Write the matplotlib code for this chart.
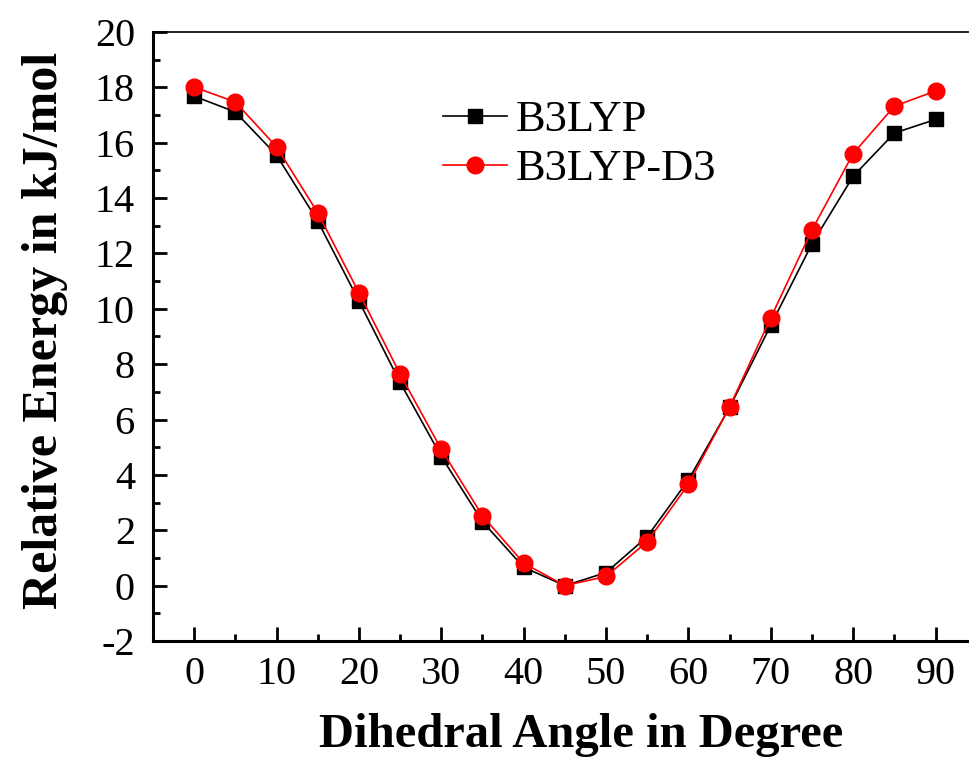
import numpy as np
import matplotlib
matplotlib.use('Agg')
import matplotlib.pyplot as plt
from matplotlib.ticker import MultipleLocator

plt.rcParams['font.family'] = ['Liberation Serif', 'DejaVu Serif']
plt.rcParams['axes.unicode_minus'] = False

# Dihedral scan, relative energies in kJ/mol
angle   = [0, 5, 10, 15, 20, 25, 30, 35, 40, 45, 50, 55, 60, 65, 70, 75, 80, 85, 90]
b3lyp   = [17.68, 17.11, 15.55, 13.17, 10.28, 7.34, 4.66, 2.31, 0.66, 0.0,
           0.47, 1.77, 3.82, 6.44, 9.41, 12.35, 14.79, 16.35, 16.84]
b3lypd3 = [18.01, 17.47, 15.85, 13.47, 10.58, 7.64, 4.92, 2.52, 0.81, 0.0,
           0.33, 1.59, 3.66, 6.46, 9.68, 12.85, 15.61, 17.32, 17.87]

fig = plt.figure(figsize=(9.7, 7.58), dpi=100)
ax = fig.add_axes([0.1577, 0.1544, 1.007 - 0.1577, 0.9578 - 0.1544])

ax.plot(angle, b3lyp, color='black', lw=1.2, marker='s', ms=9.5,
        label='B3LYP')
ax.plot(angle, b3lypd3, color='red', lw=1.2, marker='o', ms=12,
        label='B3LYP-D3')

ax.set_xlim(-5, 95)
ax.set_ylim(-2, 20)
ax.xaxis.set_major_locator(MultipleLocator(10))
ax.xaxis.set_minor_locator(MultipleLocator(5))
ax.yaxis.set_major_locator(MultipleLocator(2))
ax.yaxis.set_minor_locator(MultipleLocator(1))

ax.spines['right'].set_visible(False)
ax.spines['left'].set_linewidth(2.2)
ax.spines['bottom'].set_linewidth(2.2)
ax.spines['top'].set_linewidth(1.2)

ax.tick_params(axis='both', which='major', direction='in', length=10,
               width=2, labelsize=29)
ax.tick_params(axis='both', which='minor', direction='in', length=5, width=2)
ax.tick_params(axis='y', which='major', pad=13)
ax.tick_params(axis='x', which='major', pad=11)

ax.set_xlabel('Dihedral Angle in Degree', fontsize=35, fontweight='bold',
              va='center')
ax.set_ylabel('Relative Energy in kJ/mol', fontsize=36, fontweight='bold',
              va='center')
ax.xaxis.set_label_coords((581 - 152.9) / 824, -(735 - 641) / 609)
ax.yaxis.set_label_coords(-(152.9 - 45) / 824, 0.5 - (330 - 336.5) / 609)

leg = ax.legend(loc='upper left', bbox_to_anchor=(0.33, 0.917), frameon=False,
                fontsize=32, handlelength=1.45, handletextpad=0.2,
                labelspacing=0.2, borderaxespad=0)

fig.savefig('out.png', dpi=100)
